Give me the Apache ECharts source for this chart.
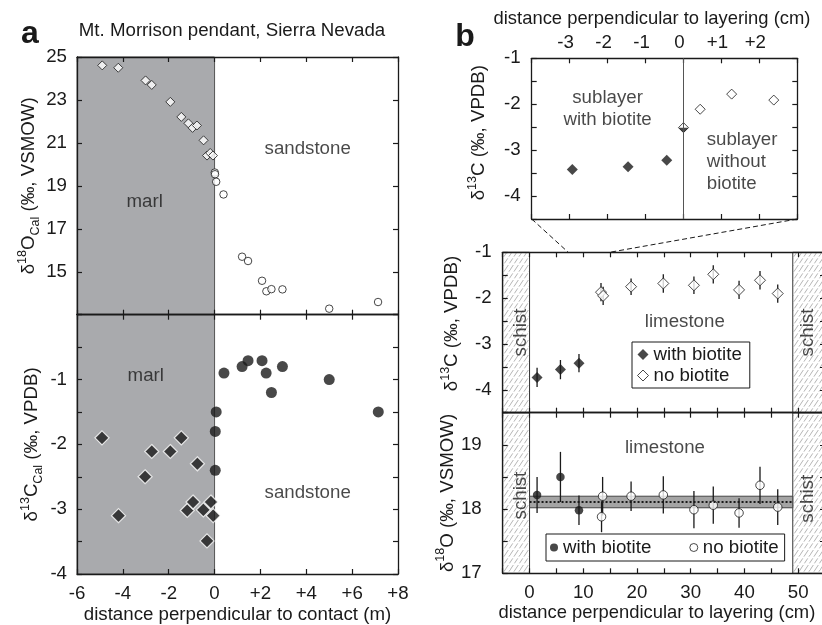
<!DOCTYPE html>
<html>
<head>
<meta charset="utf-8">
<title>Mt. Morrison pendant – calcite isotope profiles</title>
<script src="https://cdn.jsdelivr.net/npm/echarts@6/dist/echarts.min.js"></script>
<style>
  html, body { margin: 0; padding: 0; background: #fff; }
  #chart { width: 822px; height: 625px; }
</style>
</head>
<body>
<div id="chart"></div>
<script>
const FONT = "'Liberation Sans', Arial, Helvetica, sans-serif";
const INK = '#1a1a1a';
const MARL_GRAY = '#a9aaad';
const FS = 18.7;

// ---- (a) traverse across the marl / sandstone contact: [distance (m), value]
const marlO18 = [[-4.90, 24.61], [-4.20, 24.50], [-3.01, 23.91], [-2.74, 23.70], [-1.93, 22.91],
  [-1.45, 22.21], [-1.14, 21.91], [-0.96, 21.70], [-0.77, 21.81], [-0.48, 21.12],
  [-0.33, 20.41], [-0.19, 20.53], [-0.07, 20.41]];
const sandO18 = [[0.01, 19.62], [0.02, 19.54], [0.07, 19.19], [0.39, 18.60], [1.20, 15.70],
  [1.46, 15.50], [2.07, 14.58], [2.26, 14.09], [2.48, 14.19], [2.96, 14.18],
  [5.00, 13.28], [7.13, 13.59]];
const marlC13 = [[-4.91, -1.90], [-4.19, -3.10], [-3.03, -2.50], [-2.74, -2.11], [-1.93, -2.11],
  [-1.45, -1.90], [-1.19, -3.02], [-0.94, -2.89], [-0.75, -2.30], [-0.49, -3.01],
  [-0.33, -3.49], [-0.16, -2.89], [-0.06, -3.10]];
const sandC13 = [[0.41, -0.90], [1.20, -0.80], [1.46, -0.71], [2.07, -0.71], [2.25, -0.90],
  [2.48, -1.20], [2.96, -0.80], [5.00, -1.00], [7.14, -1.50], [0.07, -1.50],
  [0.03, -1.80], [0.03, -2.40]];

// ---- (b) inset: across the sublayer boundary, [distance (cm), δ13C]
const subWithBiotite = [[-2.93, -3.42], [-1.46, -3.36], [-0.44, -3.22]];
const subBoundary = [[0.0, -2.51]];
const subNoBiotite = [[0.44, -2.11], [1.27, -1.78], [2.38, -1.91]];

// ---- (b) limestone layer between schists: [distance (cm), value, 1σ]
const limeC13With = [[1.4, -3.73, 0.21], [5.75, -3.56, 0.21], [9.2, -3.42, 0.20]];
const limeC13No = [[13.3, -1.87, 0.20], [13.7, -1.95, 0.20], [18.9, -1.75, 0.18], [24.9, -1.68, 0.20],
  [30.6, -1.72, 0.19], [34.2, -1.48, 0.20], [39.0, -1.82, 0.20], [42.9, -1.61, 0.20], [46.2, -1.90, 0.20]];
const limeO18With = [[1.4, 18.22, 0.28], [5.75, 18.50, 0.39], [9.2, 17.98, 0.23]];
const limeO18No = [[13.4, 17.88, 0.24], [13.6, 18.20, 0.30], [18.9, 18.20, 0.23], [24.9, 18.22, 0.29],
  [30.6, 17.99, 0.29], [34.2, 18.06, 0.29], [39.0, 17.94, 0.23], [42.9, 18.37, 0.29], [46.2, 18.03, 0.28]];

// layer-mean δ18O and its uncertainty band
const o18Mean = 18.11, o18Low = 18.02, o18High = 18.20;
// limestone between the two schist contacts (cm)
const limeStart = 0, limeEnd = 49;
// part of the limestone traverse expanded in the inset (cm)
const insetSpan = [7.2, 14.9];

// ---- tick labels
const contactTicks = [-6, -4, -2, 0, 2, 4, 6, 8];
const contactTickLabels = ['-6', '-4', '-2', '0', '+2', '+4', '+6', '+8'];
const sublayerTicks = [-3, -2, -1, 0, 1, 2];
const sublayerTickLabels = ['-3', '-2', '-1', '0', '+1', '+2'];
const layerTicks = [0, 10, 20, 30, 40, 50];
const layerTickLabels = ['0', '10', '20', '30', '40', '50'];
const o18CalTicks = [15, 17, 19, 21, 23, 25];
const c13Ticks = [-1, -2, -3, -4];
const o18Ticks = [17, 18, 19];

// ---- text placed in data coordinates: [text, x, y]
const notesA1 = [['marl', -3.05, 18.25], ['sandstone', 4.06, 20.7]];
const notesA2 = [['marl', -3.0, -0.95], ['sandstone', 4.06, -2.75]];
const notesInset = [['sublayer\nwith biotite', -2.0, -2.1]];
const notesInsetRight = [['sublayer\nwithout\nbiotite', 0.6, -3.25]];
const notesB1 = [['limestone', 28.9, -2.52]];
const notesB2 = [['limestone', 25.2, 18.96]];
const schistB1 = [['schist', -1.7, -2.75], ['schist', 51.8, -2.75]];
const schistB2 = [['schist', -1.7, 18.21], ['schist', 51.8, 18.16]];

const legendText = {
  'C with': 'with biotite', 'C no': 'no biotite',
  'O with': 'with biotite', 'O no': 'no biotite'
};

function lookup(ticks, labels) {
  return v => {
    const i = ticks.findIndex(t => Math.abs(t - v) < 1e-9);
    return i < 0 ? '' : labels[i];
  };
}
function listed(ticks) {
  return v => ticks.some(t => Math.abs(t - v) < 1e-9) ? String(v) : '';
}

// light, broken diagonal strokes for the schist
function hatchPattern() {
  const c = document.createElement('canvas');
  c.width = 10; c.height = 15;
  const g = c.getContext('2d');
  g.strokeStyle = '#a2a2a2';
  g.lineWidth = 0.8;
  g.setLineDash([6, 2]);
  for (const off of [0, 5, 10, 15]) {
    g.beginPath();
    g.moveTo(off - 10, 15);
    g.lineTo(off, 0);
    g.stroke();
  }
  return c;
}
const HATCH = { image: hatchPattern(), repeat: 'repeat' };

const labelStyle = { fontSize: FS, color: INK, fontFamily: FONT };

function axis(extra) {
  return Object.assign({
    type: 'value', z: 2, scale: false,
    axisLine: { show: true, onZero: false, lineStyle: { color: INK, width: 1.3 } },
    axisTick: { show: true, inside: true, length: 5, lineStyle: { color: INK, width: 1.2 } },
    splitLine: { show: false },
    axisLabel: { show: false }
  }, extra);
}
function labels(formatter, margin, extra) {
  return Object.assign({ show: true, formatter, margin, showMinLabel: true, showMaxLabel: true },
    labelStyle, extra || {});
}

const nameRich = {
  m: { fontSize: FS, fontFamily: FONT, color: INK, lineHeight: 26 },
  u: { fontSize: 12.5, fontFamily: FONT, color: INK, lineHeight: 12, verticalAlign: 'top' },
  d: { fontSize: 12.5, fontFamily: FONT, color: INK, lineHeight: 12, verticalAlign: 'bottom' }
};
const plainName = { fontSize: FS, fontFamily: FONT, color: INK };

const grids = [
  { left: 77, top: 57, width: 321, height: 257.7 },          // a, δ18O
  { left: 77, top: 314.7, width: 321, height: 259.3 },       // a, δ13C
  { left: 531.7, top: 58.3, width: 265.6, height: 160.7 },   // b, inset
  { left: 502.7, top: 252.3, width: 322.3, height: 160.4 },  // b, δ13C
  { left: 502.7, top: 412.7, width: 322.3, height: 160.6 }   // b, δ18O
].map(g => Object.assign({ outerBoundsMode: 'none', containLabel: false }, g));

// each grid owns two x axes (bottom, top) and two y axes (left, right): indices 2g and 2g+1
const xAxes = [
  axis({ gridIndex: 0, position: 'bottom', min: -6, max: 8, interval: 2 }),
  axis({ gridIndex: 0, position: 'top', min: -6, max: 8, interval: 2 }),
  axis({ gridIndex: 1, position: 'bottom', min: -6, max: 8, interval: 2,
    axisLabel: labels(lookup(contactTicks, contactTickLabels), 10),
    name: 'distance perpendicular to contact (m)', nameLocation: 'middle', nameGap: 31,
    nameTextStyle: plainName }),
  axis({ gridIndex: 1, position: 'top', min: -6, max: 8, interval: 2 }),
  axis({ gridIndex: 2, position: 'top', min: -4, max: 3, interval: 1,
    axisLabel: labels(lookup(sublayerTicks, sublayerTickLabels), 6, { padding: [0, 8, 0, 0] }),
    name: 'distance perpendicular to layering (cm)', nameLocation: 'middle', nameGap: 30,
    nameTextStyle: Object.assign({ padding: [0, 25, 0, 0] }, plainName, { fontSize: 18.4 }) }),
  axis({ gridIndex: 2, position: 'bottom', min: -4, max: 3, interval: 1 }),
  axis({ gridIndex: 3, position: 'bottom', min: -5, max: 55, interval: 5 }),
  axis({ gridIndex: 3, position: 'top', min: -5, max: 55, interval: 5 }),
  axis({ gridIndex: 4, position: 'bottom', min: -5, max: 55, interval: 5,
    axisLabel: labels(lookup(layerTicks, layerTickLabels), 10),
    name: 'distance perpendicular to layering (cm)', nameLocation: 'middle', nameGap: 31,
    nameTextStyle: Object.assign({ padding: [0, 14, 0, 0] }, plainName, { fontSize: 18.4 }) }),
  axis({ gridIndex: 4, position: 'top', min: -5, max: 55, interval: 5 })
];

const yAxes = [
  axis({ gridIndex: 0, position: 'left', min: 13, max: 25, interval: 2,
    axisLabel: labels(listed(o18CalTicks), 10),
    name: '{m|δ}{u|18}{m|O}{d|Cal}{m| (‰, VSMOW)}', nameLocation: 'middle', nameGap: 32,
    nameTextStyle: { rich: nameRich } }),
  axis({ gridIndex: 0, position: 'right', min: 13, max: 25, interval: 2 }),
  axis({ gridIndex: 1, position: 'left', min: -4, max: 0, interval: 0.5,
    axisLabel: labels(listed(c13Ticks), 10),
    name: '{m|δ}{u|13}{m|C}{d|Cal}{m| (‰, VPDB)}', nameLocation: 'middle', nameGap: 32,
    nameTextStyle: { rich: nameRich } }),
  axis({ gridIndex: 1, position: 'right', min: -4, max: 0, interval: 0.5 }),
  axis({ gridIndex: 2, position: 'left', min: -4.5, max: -1, interval: 0.5,
    axisLabel: labels(listed(c13Ticks), 11),
    name: '{m|δ}{u|13}{m|C (‰, VPDB)}', nameLocation: 'middle', nameGap: 40,
    nameTextStyle: { rich: nameRich, padding: [0, 0, 0, 12] } }),
  axis({ gridIndex: 2, position: 'right', min: -4.5, max: -1, interval: 0.5 }),
  axis({ gridIndex: 3, position: 'left', min: -4.5, max: -1, interval: 0.5,
    axisLabel: labels(listed(c13Ticks), 11),
    name: '{m|δ}{u|13}{m|C (‰, VPDB)}', nameLocation: 'middle', nameGap: 38,
    nameTextStyle: { rich: nameRich, padding: [0, 0, 0, 18] } }),
  axis({ gridIndex: 3, position: 'right', min: -4.5, max: -1, interval: 0.5 }),
  axis({ gridIndex: 4, position: 'left', min: 17, max: 19.5, interval: 0.5,
    axisLabel: labels(listed(o18Ticks), 21),
    name: '{m|δ}{u|18}{m|O (‰, VSMOW)}', nameLocation: 'middle', nameGap: 38,
    nameTextStyle: { rich: nameRich } }),
  axis({ gridIndex: 4, position: 'right', min: 17, max: 19.5, interval: 0.5 })
];

function on(g) { return { xAxisIndex: 2 * g, yAxisIndex: 2 * g }; }

function points(id, g, data, symbol, size, style, extra) {
  return Object.assign({
    id, type: 'scatter', name: id, z: 4, silent: true,
    data: data.map(d => [d[0], d[1]]),
    symbol, symbolSize: size, itemStyle: style
  }, on(g), extra || {});
}

function errorBars(g, data) {
  return Object.assign({
    type: 'custom', z: 3, silent: true,
    data: data.map(d => [d[0], d[1] - d[2], d[1] + d[2]]),
    encode: { x: 0, y: [1, 2] },
    renderItem: (params, api) => {
      const a = api.coord([api.value(0), api.value(1)]);
      const b = api.coord([api.value(0), api.value(2)]);
      return { type: 'line', shape: { x1: a[0], y1: a[1], x2: b[0], y2: b[1] },
        style: { stroke: INK, lineWidth: 1.3 } };
    }
  }, on(g));
}

function notes(g, list, label) {
  return Object.assign({
    type: 'scatter', z: 5, silent: true,
    symbolSize: 1, itemStyle: { color: 'rgba(0,0,0,0)' },
    data: list.map(n => ({ name: n[0], value: [n[1], n[2]] })),
    label: Object.assign({ show: true, position: 'inside', formatter: '{b}', lineHeight: 22 }, labelStyle, label || {})
  }, on(g));
}

function backdrop(g, markArea, markLine) {
  const s = Object.assign({ type: 'scatter', z: 1, silent: true, data: [] }, on(g));
  if (markArea) s.markArea = Object.assign({ silent: true }, markArea);
  if (markLine) s.markLine = Object.assign({ silent: true, symbol: 'none', label: { show: false } }, markLine);
  return s;
}

const openStyle = { color: '#fff', borderColor: INK, borderWidth: 1 };
const fillStyle = { color: INK };

const hatchAreas = {
  itemStyle: { color: HATCH, borderColor: '#333', borderWidth: 1 },
  data: [[{ xAxis: -5 }, { xAxis: limeStart }], [{ xAxis: limeEnd }, { xAxis: 55 }]]
};

const series = [
  backdrop(0, { itemStyle: { color: MARL_GRAY, borderColor: '#555', borderWidth: 1 },
    data: [[{ xAxis: -6 }, { xAxis: 0 }]] }),
  backdrop(1, { itemStyle: { color: MARL_GRAY, borderColor: '#555', borderWidth: 1 },
    data: [[{ xAxis: -6 }, { xAxis: 0 }]] }),
  backdrop(2, null, { lineStyle: { color: '#555', width: 1, type: 'solid' }, data: [{ xAxis: 0 }] }),
  backdrop(3, hatchAreas),
  backdrop(4, hatchAreas),
  backdrop(4, { itemStyle: { color: '#a4a4a4', borderColor: '#444', borderWidth: 1 },
      data: [[{ xAxis: limeStart, yAxis: o18Low }, { xAxis: limeEnd, yAxis: o18High }]] },
    { lineStyle: { color: INK, width: 2, type: [2, 2] },
      data: [[{ coord: [limeStart, o18Mean] }, { coord: [limeEnd, o18Mean] }]] }),

  points('marlO18', 0, marlO18, 'diamond', 9, openStyle),
  points('sandO18', 0, sandO18, 'circle', 7.5, openStyle),
  points('marlC13', 1, marlC13, 'diamond', 14, { color: INK, borderColor: '#fff', borderWidth: 1.2 }),
  points('sandC13', 1, sandC13, 'circle', 11, fillStyle),

  points('insetWith', 2, subWithBiotite, 'diamond', 11, fillStyle),
  points('insetNo', 2, subNoBiotite, 'diamond', 10, openStyle),
  points('insetMid', 2, subBoundary, 'diamond', 10, openStyle),
  points('insetMidLower', 2, subBoundary, 'path://M0,0L2,0L1,1Z', [10, 5], fillStyle,
    { symbolOffset: [0, 2.5] }),

  errorBars(3, limeC13With),
  errorBars(3, limeC13No),
  points('C with', 3, limeC13With, 'diamond', 11, fillStyle),
  points('C no', 3, limeC13No, 'diamond', 11, openStyle),

  errorBars(4, limeO18With),
  errorBars(4, limeO18No),
  points('O with', 4, limeO18With, 'circle', 8.5, fillStyle),
  points('O no', 4, limeO18No, 'circle', 8.5, openStyle),

  notes(0, notesA1),
  notes(1, notesA2),
  notes(2, notesInset, { align: 'center' }),
  notes(2, notesInsetRight, { position: 'right', distance: 0, align: 'left' }),
  notes(3, notesB1),
  notes(4, notesB2),
  notes(3, schistB1, { rotate: 90 }),
  notes(4, schistB2, { rotate: 90 })
];

const legends = [
  {
    left: 632, top: 342, orient: 'vertical', selectedMode: false,
    itemWidth: 11, itemHeight: 11, itemGap: 0, padding: [2, 8, 2, 5],
    borderColor: INK, borderWidth: 1,
    textStyle: Object.assign({ lineHeight: 21 }, labelStyle),
    formatter: n => legendText[n],
    data: [
      { name: 'C with', icon: 'diamond', itemStyle: { color: INK, borderWidth: 0 } },
      { name: 'C no', icon: 'diamond', itemStyle: { color: '#fff', borderColor: INK, borderWidth: 1 } }
    ]
  },
  {
    left: 546, top: 534, orient: 'horizontal', selectedMode: false,
    itemWidth: 8, itemHeight: 8, itemGap: 38, padding: [3, 6, 3, 4],
    borderColor: INK, borderWidth: 1,
    textStyle: Object.assign({ lineHeight: 21 }, labelStyle),
    formatter: n => legendText[n],
    data: [
      { name: 'O with', icon: 'circle', itemStyle: { color: INK, borderWidth: 0 } },
      { name: 'O no', icon: 'circle', itemStyle: { color: '#fff', borderColor: INK, borderWidth: 1 } }
    ]
  }
];

const chart = echarts.init(document.getElementById('chart'), null, { renderer: 'canvas' });
chart.setOption({
  animation: false,
  backgroundColor: '#fff',
  textStyle: { fontFamily: FONT },
  grid: grids,
  xAxis: xAxes,
  yAxis: yAxes,
  legend: legends,
  series
});

// dashed lines tying the inset frame to the traverse interval it expands
const insetLL = chart.convertToPixel({ seriesId: 'insetWith' }, [-4, -4.5]);
const insetLR = chart.convertToPixel({ seriesId: 'insetWith' }, [3, -4.5]);
const spanL = chart.convertToPixel({ seriesId: 'C with' }, [insetSpan[0], -1]);
const spanR = chart.convertToPixel({ seriesId: 'C with' }, [insetSpan[1], -1]);
const dash = { stroke: INK, lineWidth: 1, lineDash: [5, 3], fill: null };

chart.setOption({
  graphic: [
    { type: 'text', x: 30, y: 34, style: { text: 'a', fontSize: 32, fontWeight: 'bold', fontFamily: FONT,
      fill: INK, align: 'center', verticalAlign: 'middle' } },
    { type: 'text', x: 465, y: 37, style: { text: 'b', fontSize: 32, fontWeight: 'bold', fontFamily: FONT,
      fill: INK, align: 'center', verticalAlign: 'middle' } },
    { type: 'text', x: 232, y: 31, style: { text: 'Mt. Morrison pendant, Sierra Nevada', fontSize: FS,
      fontFamily: FONT, fill: INK, align: 'center', verticalAlign: 'middle' } },
    { type: 'polyline', shape: { points: [insetLL, spanL] }, style: dash, z: 10 },
    { type: 'polyline', shape: { points: [insetLR, spanR] }, style: dash, z: 10 }
  ]
});
</script>
</body>
</html>
